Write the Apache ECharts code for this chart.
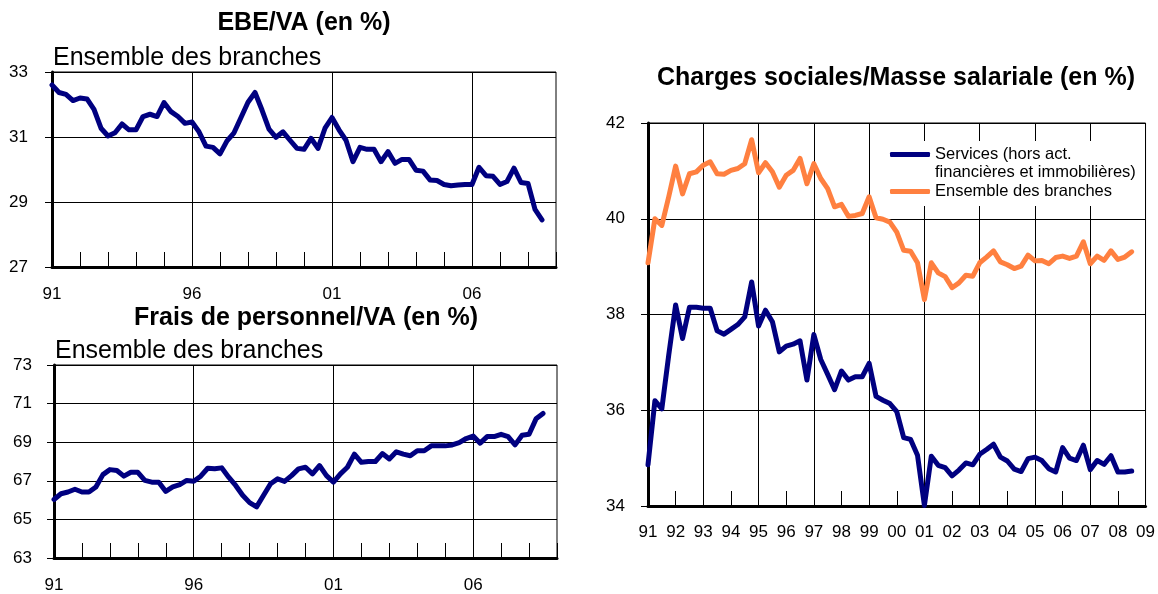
<!DOCTYPE html>
<html>
<head>
<meta charset="utf-8">
<script src="https://cdn.jsdelivr.net/npm/echarts@6/dist/echarts.min.js"></script>
<style>
  html, body { margin: 0; padding: 0; background: #fff; }
  #chart { width: 1158px; height: 594px; }
</style>
</head>
<body>
<div id="chart"></div>
<script>
// trimestres 1991T1 .. 2009T1 (l'axe va jusqu'à 09)
const firstYear = 1991
const lastYear = 2009
const quarters = []
for (let y = firstYear; y <= lastYear; y++) {
  for (let q = 1; q <= 4; q++) {
    if (y === lastYear && q > 1) break
    quarters.push(String(y).slice(2) + 'T' + q)
  }
}

// EBE/VA, ensemble des branches (%)
const ebeVa = [32.6, 32.37, 32.31, 32.12, 32.2, 32.17, 31.85, 31.27, 31.03, 31.13, 31.4, 31.22, 31.22, 31.63, 31.7, 31.63, 32.06, 31.78, 31.63, 31.42,
  31.46, 31.16, 30.72, 30.68, 30.48, 30.88, 31.13, 31.6, 32.07, 32.37, 31.83, 31.24, 30.99, 31.16, 30.9, 30.65, 30.62, 30.96, 30.65, 31.27,
  31.6, 31.22, 30.9, 30.24, 30.68, 30.62, 30.62, 30.24, 30.55, 30.19, 30.31, 30.31, 29.98, 29.95, 29.68, 29.66, 29.54, 29.5, 29.52, 29.54,
  29.54, 30.07, 29.81, 29.79, 29.54, 29.63, 30.04, 29.6, 29.57, 28.77, 28.45]

// Frais de personnel/VA, ensemble des branches (%)
const fraisVa = [66.03, 66.33, 66.42, 66.56, 66.42, 66.42, 66.68, 67.32, 67.58, 67.53, 67.24, 67.44, 67.44, 67.02, 66.93, 66.93, 66.45, 66.68, 66.8, 67.02,
  66.98, 67.24, 67.65, 67.62, 67.67, 67.19, 66.76, 66.25, 65.87, 65.65, 66.25, 66.85, 67.1, 66.97, 67.27, 67.62, 67.7, 67.36, 67.79, 67.27,
  66.93, 67.36, 67.7, 68.38, 67.96, 68.0, 68.0, 68.41, 68.13, 68.5, 68.38, 68.3, 68.56, 68.56, 68.81, 68.81, 68.81, 68.86, 68.98, 69.19,
  69.32, 68.95, 69.29, 69.29, 69.41, 69.29, 68.86, 69.36, 69.41, 70.21, 70.49]

// Charges sociales/Masse salariale (%)
const servicesName = 'Services (hors act. financières et immobilières)'
const ensembleName = 'Ensemble des branches'
const chargesServices = [34.86, 36.2, 36.03, 37.15, 38.2, 37.5, 38.15, 38.15, 38.13, 38.13, 37.66, 37.59, 37.69, 37.79, 37.95, 38.68, 37.76, 38.09, 37.85, 37.22,
  37.34, 37.38, 37.45, 36.63, 37.58, 37.06, 36.75, 36.43, 36.82, 36.63, 36.7, 36.7, 36.98, 36.29, 36.21, 36.14, 35.97, 35.43, 35.39, 35.06,
  34.01, 35.04, 34.85, 34.8, 34.63, 34.75, 34.9, 34.86, 35.08, 35.18, 35.29, 35.02, 34.94, 34.77, 34.72, 34.99, 35.02, 34.95, 34.78, 34.71,
  35.22, 35.0, 34.95, 35.27, 34.76, 34.95, 34.87, 35.05, 34.71, 34.71, 34.73]
const chargesEnsemble = [39.08, 40.0, 39.86, 40.46, 41.1, 40.52, 40.94, 40.98, 41.12, 41.19, 40.94, 40.93, 41.01, 41.05, 41.15, 41.65, 40.96, 41.17, 40.98, 40.66,
  40.91, 41.01, 41.26, 40.73, 41.15, 40.84, 40.63, 40.25, 40.3, 40.05, 40.07, 40.11, 40.46, 40.02, 39.99, 39.93, 39.72, 39.34, 39.32, 39.08,
  38.31, 39.08, 38.87, 38.79, 38.56, 38.66, 38.82, 38.8, 39.08, 39.2, 39.33, 39.1, 39.04, 38.96, 39.01, 39.24, 39.12, 39.13, 39.06, 39.19,
  39.22, 39.17, 39.22, 39.52, 39.06, 39.22, 39.13, 39.33, 39.15, 39.2, 39.31]

const FONT = '"Liberation Sans", Arial, sans-serif'
const NAVY = '#000080'
const ORANGE = '#ff8040'

function xAxisOf(gridIndex, labelEvery, lineEvery) {
  return {
    type: 'category',
    gridIndex,
    data: quarters,
    boundaryGap: false,
    axisLine: { lineStyle: { color: '#000', width: 3 } },
    axisTick: { inside: true, length: 15, lineStyle: { color: '#000', width: 1 }, interval: (i) => i % 4 === 0 },
    axisLabel: {
      interval: (i) => i % labelEvery === 0,
      formatter: (v) => v.slice(0, 2),
      color: '#000', fontSize: 17, fontFamily: FONT,
      margin: gridIndex === 2 ? 18 : 19,
    },
    splitLine: { show: true, interval: (i) => i % lineEvery === 0, lineStyle: { color: '#000', width: 1 } },
  }
}

function yAxisOf(gridIndex, min, max, margin) {
  return {
    type: 'value',
    gridIndex,
    min, max, interval: 2,
    axisLine: { show: true, lineStyle: { color: '#000', width: 3 } },
    axisTick: { show: true, length: 7, lineStyle: { color: '#000', width: 1 } },
    axisLabel: { color: '#000', fontSize: 17, fontFamily: FONT, margin },
    splitLine: { show: true, lineStyle: { color: '#000', width: 1 } },
  }
}

function lineSeries(name, data, color, idx) {
  return {
    name, type: 'line', data,
    xAxisIndex: idx, yAxisIndex: idx,
    showSymbol: false, symbol: 'none',
    lineStyle: { color, width: 5, join: 'round', cap: 'round' },
    itemStyle: { color },
  }
}

const titleBold = { fontFamily: FONT, fontSize: 25, fontWeight: 'bold', color: '#000' }
const titlePlain = { fontFamily: FONT, fontSize: 25, fontWeight: 'normal', color: '#000' }

const chart = echarts.init(document.getElementById('chart'))
chart.setOption({
  animation: false,
  backgroundColor: '#fff',
  title: [
    { text: 'EBE/VA (en %)', left: 304, top: 11, textAlign: 'center', padding: 0, textStyle: titleBold },
    { text: 'Ensemble des branches', left: 53, top: 46, padding: 0, textStyle: titlePlain },
    { text: 'Frais de personnel/VA (en %)', left: 306, top: 306, textAlign: 'center', padding: 0, textStyle: titleBold },
    { text: 'Ensemble des branches', left: 55, top: 339, padding: 0, textStyle: titlePlain },
    { text: 'Charges sociales/Masse salariale (en %)', left: 896, top: 66, textAlign: 'center', padding: 0, textStyle: titleBold },
  ],
  grid: [
    { left: 52, top: 72, width: 504, height: 195, show: true, borderColor: '#000', borderWidth: 1 },
    { left: 54, top: 365, width: 503, height: 195, show: true, borderColor: '#000', borderWidth: 1 },
    { left: 648, top: 123, width: 499, height: 383, show: true, borderColor: '#000', borderWidth: 1 },
  ],
  xAxis: [xAxisOf(0, 20, 20), xAxisOf(1, 20, 20), xAxisOf(2, 4, 8)],
  yAxis: [yAxisOf(0, 27, 33, 24), yAxisOf(1, 63, 73, 22), yAxisOf(2, 34, 42, 23)],
  legend: {
    data: [servicesName, ensembleName],
    orient: 'vertical',
    left: 880, top: 141,
    padding: [4, 30, 5, 10],
    itemWidth: 40, itemHeight: 5, itemGap: 18,
    icon: 'roundRect',
    backgroundColor: '#fff',
    formatter: (name) => name === servicesName ? 'Services (hors act.' : name,
    textStyle: { color: '#000', fontSize: 16.5, fontFamily: FONT, lineHeight: 19 },
  },
  graphic: [{
    type: 'text', z: 100, left: 935, top: 164,
    style: { text: 'financières et immobilières)', fill: '#000', font: '16.5px ' + FONT },
  }],
  series: [
    lineSeries('EBE/VA', ebeVa, NAVY, 0),
    lineSeries('Frais de personnel/VA', fraisVa, NAVY, 1),
    lineSeries(servicesName, chargesServices, NAVY, 2),
    lineSeries(ensembleName, chargesEnsemble, ORANGE, 2),
  ],
})
</script>
</body>
</html>
